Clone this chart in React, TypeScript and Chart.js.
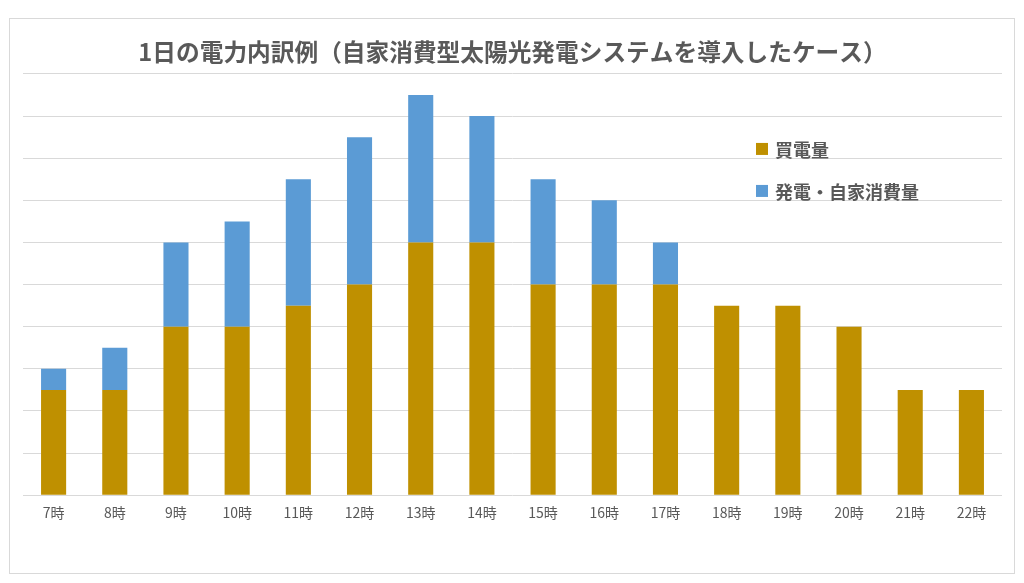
import React, { useEffect, useRef } from "react";
import { Chart, registerables } from "chart.js";

Chart.register(...registerables);

const titleText = "1日の電力内訳例（自家消費型太陽光発電システムを導入したケース）";
const categories = ["7時", "8時", "9時", "10時", "11時", "12時", "13時", "14時", "15時", "16時", "17時", "18時", "19時", "20時", "21時", "22時"];
const purchased = [2.5, 2.5, 4, 4, 4.5, 5, 6, 6, 5, 5, 5, 4.5, 4.5, 4, 2.5, 2.5];
const selfConsumed = [0.5, 1, 2, 2.5, 3, 3.5, 3.5, 3, 2.5, 2, 1, 0, 0, 0, 0, 0];
const seriesNames = ["買電量", "発電・自家消費量"];
const seriesColors = ["#BF9000", "#5B9BD5"];

const FONT = '"Noto Sans CJK JP", "Noto Sans", sans-serif';
const TEXT = "#595959";

const legendPlugin = {
  id: "insideLegend",
  afterDraw(chart: any) {
    const { ctx, chartArea } = chart;
    const x0 = chartArea.right - 246;
    const y0 = chartArea.top + 75;
    ctx.save();
    chart.data.datasets.forEach((ds: any, i: number) => {
      const cy = y0 + i * 42;
      ctx.fillStyle = ds.backgroundColor;
      ctx.fillRect(x0, cy - 6, 12, 12);
      ctx.fillStyle = TEXT;
      ctx.font = `bold 18px ${FONT}`;
      ctx.textBaseline = "middle";
      ctx.textAlign = "left";
      ctx.fillText(ds.label, x0 + 19, cy + 1);
    });
    ctx.restore();
  },
};

export default function App() {
  const ref = useRef<HTMLCanvasElement>(null);
  useEffect(() => {
    if (!ref.current) return;
    const chart = new Chart(ref.current, {
      type: "bar",
      data: {
        labels: categories,
        datasets: [
          { label: seriesNames[0], data: purchased, backgroundColor: seriesColors[0] },
          { label: seriesNames[1], data: selfConsumed, backgroundColor: seriesColors[1] },
        ],
      },
      options: {
        responsive: false,
        animation: false,
        layout: { padding: { left: 13, right: 12, top: 0, bottom: 51 } },
        datasets: { bar: { categoryPercentage: 1, barPercentage: 0.41 } },
        plugins: {
          legend: { display: false },
          tooltip: { enabled: false },
          title: {
            display: true,
            text: titleText,
            color: TEXT,
            font: { family: FONT, size: 23.7, weight: "bold" },
            padding: { top: 19, bottom: 7.5 },
          },
        },
        scales: {
          x: {
            stacked: true,
            grid: { display: false },
            border: { display: false },
            ticks: { color: TEXT, font: { family: FONT, size: 14 }, padding: 1 },
          },
          y: {
            stacked: true,
            min: 0,
            max: 10,
            ticks: { display: false, stepSize: 1 },
            grid: { color: "#D9D9D9", lineWidth: 1, drawTicks: false },
            border: { display: false },
          },
        },
      },
      plugins: [legendPlugin],
    });
    return () => chart.destroy();
  }, []);
  return (
    <div style={{ position: "fixed", left: 0, top: 0, width: 1024, height: 583, background: "#fff" }}>
      <div
        style={{
          position: "absolute",
          left: 9,
          top: 18,
          width: 1004,
          height: 554,
          border: "1px solid #D9D9D9",
        }}
      >
        <canvas ref={ref} width={1004} height={554} style={{ display: "block" }} />
      </div>
    </div>
  );
}
